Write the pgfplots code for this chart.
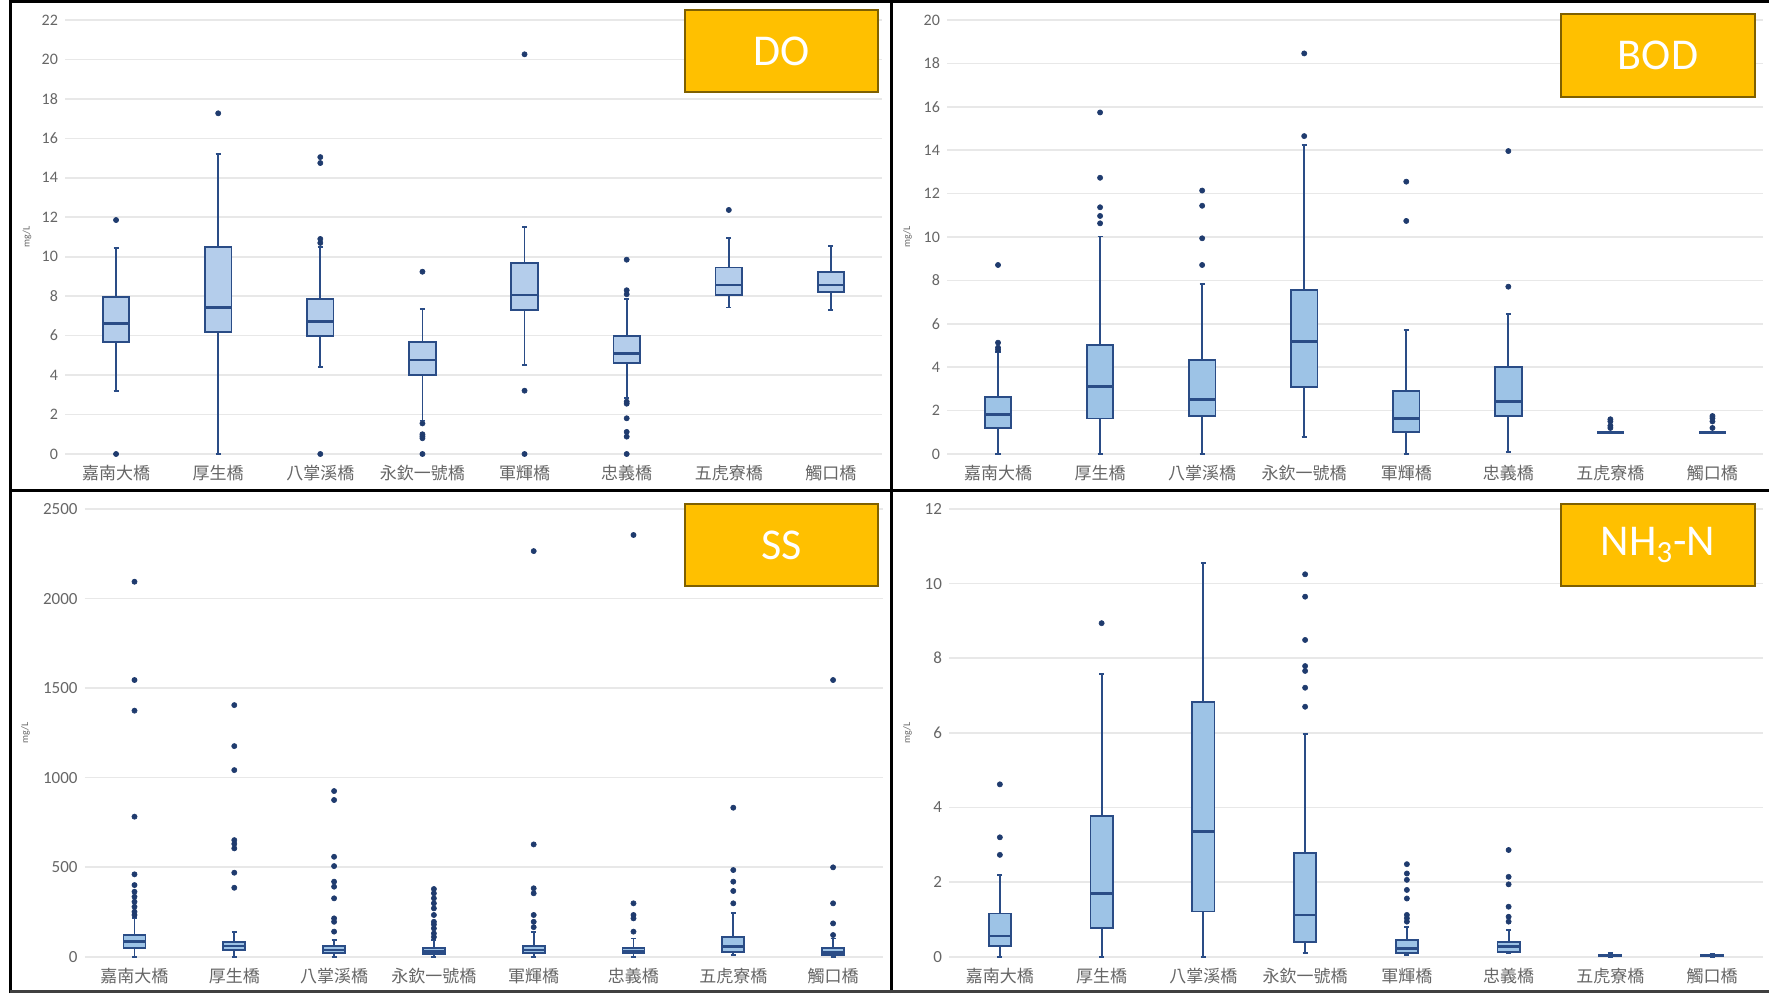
\documentclass[border=0pt]{standalone}
\usepackage{fontspec}
\usepackage{pgfplots}
\pgfplotsset{compat=1.18}
\usepgfplotslibrary{statistics}
\setmainfont{Carlito}
\newfontfamily\cjk{Noto Sans CJK TC}
\definecolor{bxline}{HTML}{2A4C86}
\definecolor{bxfillA}{HTML}{B4CDEB}
\definecolor{bxfillB}{HTML}{9DC3E6}
\definecolor{dotc}{HTML}{1F3B6E}
\definecolor{gridc}{HTML}{E8E8E8}
\definecolor{tickc}{HTML}{666666}
\definecolor{labbg}{HTML}{FFC000}
\definecolor{labbd}{HTML}{7F6000}
\pgfplotsset{
  panel/.style={scale only axis, xmin=0.5, xmax=8.5, xtick={1,...,8},
    xticklabels={嘉南大橋,厚生橋,八掌溪橋,永欽一號橋,軍輝橋,忠義橋,五虎寮橋,觸口橋},
    xticklabel style={font=\cjk\fontsize{8.5}{9}\selectfont, text=tickc, yshift=-2pt},
    yticklabel style={font=\fontsize{8}{9}\selectfont, text=tickc},
    /pgf/number format/assume math mode=true,
    /pgf/number format/1000 sep={},
    ymajorgrids, grid style={gridc, line width=0.8pt},
    axis line style={draw=none}, major tick style={draw=none}, minor tick style={draw=none},
    ylabel={mg/L},
    boxplot/draw direction=y, boxplot/whisker extend=0.05,
    boxplot/every median/.style={line width=1.3pt},
    clip=false},
  ylab/.style={every axis y label/.style={at={(axis description cs:0,0.5)}, xshift=#1, rotate=90, anchor=center, font=\fontsize{5}{5}\selectfont, text=tickc}},
  bxA/.style={draw=bxline, fill=bxfillA, line width=0.9pt, mark=*, mark size=1.3pt, mark options={draw=dotc, fill=dotc, line width=0.3pt}},
  bxB/.style={draw=bxline, fill=bxfillB, line width=0.9pt, mark=*, mark size=1.3pt, mark options={draw=dotc, fill=dotc, line width=0.3pt}},
}
\begin{document}
\begin{tikzpicture}
\useasboundingbox[fill=white] (0,0) rectangle (884.5pt,496.5pt);

% ---------------- DO ----------------
\begin{axis}[panel, at={(32.5pt,269.5pt)}, anchor=south west, width=408.5pt, height=217pt,
  ymin=0, ymax=22, ytick={0,2,...,22}, boxplot/box extend=0.26, ylab=-19pt]
\addplot[bxA, boxplot prepared={draw position=1, lower whisker=3.21, lower quartile=5.69, median=6.62, upper quartile=7.96, upper whisker=10.43}] coordinates {(1,11.86) (1,0)};
\addplot[bxA, boxplot prepared={draw position=2, lower whisker=0, lower quartile=6.20, median=7.43, upper quartile=10.48, upper whisker=15.21}] coordinates {(2,17.27)};
\addplot[bxA, boxplot prepared={draw position=3, lower whisker=4.43, lower quartile=5.98, median=6.71, upper quartile=7.84, upper whisker=10.5}] coordinates {(3,10.7) (3,10.9) (3,14.75) (3,15.05) (3,0)};
\addplot[bxA, boxplot prepared={draw position=4, lower whisker=1.7, lower quartile=4.0, median=4.77, upper quartile=5.66, upper whisker=7.33}] coordinates {(4,9.24) (4,1.55) (4,1.0) (4,0.9) (4,0.8) (4,0)};
\addplot[bxA, boxplot prepared={draw position=5, lower whisker=4.51, lower quartile=7.30, median=8.06, upper quartile=9.67, upper whisker=11.52}] coordinates {(5,20.26) (5,3.21) (5,0)};
\addplot[bxA, boxplot prepared={draw position=6, lower whisker=2.82, lower quartile=4.63, median=5.10, upper quartile=5.98, upper whisker=7.86}] coordinates {(6,8.1) (6,8.3) (6,9.85) (6,2.65) (6,2.55) (6,1.81) (6,1.12) (6,0.88) (6,0)};
\addplot[bxA, boxplot prepared={draw position=7, lower whisker=7.43, lower quartile=8.04, median=8.57, upper quartile=9.45, upper whisker=10.93}] coordinates {(7,12.37)};
\addplot[bxA, boxplot prepared={draw position=8, lower whisker=7.30, lower quartile=8.21, median=8.57, upper quartile=9.24, upper whisker=10.56}] coordinates {};
\end{axis}

% ---------------- BOD ----------------
\begin{axis}[panel, at={(473.5pt,269.5pt)}, anchor=south west, width=408.25pt, height=217pt,
  ymin=0, ymax=20, ytick={0,2,...,20}, boxplot/box extend=0.26, ylab=-19.75pt]
\addplot[bxB, boxplot prepared={draw position=1, lower whisker=0, lower quartile=1.18, median=1.83, upper quartile=2.64, upper whisker=4.7}] coordinates {(1,4.8) (1,4.9) (1,5.13) (1,8.71)};
\addplot[bxB, boxplot prepared={draw position=2, lower whisker=0, lower quartile=1.64, median=3.10, upper quartile=5.02, upper whisker=10.02}] coordinates {(2,10.63) (2,10.97) (2,11.37) (2,12.73) (2,15.74)};
\addplot[bxB, boxplot prepared={draw position=3, lower whisker=0, lower quartile=1.75, median=2.52, upper quartile=4.33, upper whisker=7.82}] coordinates {(3,8.71) (3,9.94) (3,11.44) (3,12.14)};
\addplot[bxB, boxplot prepared={draw position=4, lower whisker=0.80, lower quartile=3.10, median=5.18, upper quartile=7.56, upper whisker=14.24}] coordinates {(4,14.65) (4,18.46)};
\addplot[bxB, boxplot prepared={draw position=5, lower whisker=0, lower quartile=1.0, median=1.64, upper quartile=2.92, upper whisker=5.71}] coordinates {(5,10.74) (5,12.55)};
\addplot[bxB, boxplot prepared={draw position=6, lower whisker=0.1, lower quartile=1.75, median=2.41, upper quartile=4.02, upper whisker=6.44}] coordinates {(6,7.71) (6,13.96)};
\addplot[bxB, boxplot prepared={draw position=7, lower whisker=1.0, lower quartile=1.0, median=1.0, upper quartile=1.0, upper whisker=1.0}] coordinates {(7,1.2) (7,1.3) (7,1.5) (7,1.6)};
\addplot[bxB, boxplot prepared={draw position=8, lower whisker=1.0, lower quartile=1.0, median=1.0, upper quartile=1.0, upper whisker=1.0}] coordinates {(8,1.2) (8,1.5) (8,1.65) (8,1.75)};
\end{axis}

% ---------------- SS ----------------
\begin{axis}[panel, at={(42.3pt,18.15pt)}, anchor=south west, width=399.2pt, height=223.85pt,
  ymin=0, ymax=2500, ytick={0,500,...,2500}, boxplot/box extend=0.22,
  yticklabel style={font=\fontsize{8.5}{9}\selectfont}, ylab=-29.5pt]
\addplot[bxB, boxplot prepared={draw position=1, lower whisker=0, lower quartile=47, median=84, upper quartile=121, upper whisker=214}] coordinates {(1,233) (1,251) (1,279) (1,307) (1,335) (1,363) (1,400) (1,460) (1,782) (1,1374) (1,1545) (1,2094)};
\addplot[bxB, boxplot prepared={draw position=2, lower whisker=0, lower quartile=37, median=60, upper quartile=84, upper whisker=140}] coordinates {(2,385) (2,469) (2,605) (2,630) (2,651) (2,1042) (2,1176) (2,1405)};
\addplot[bxB, boxplot prepared={draw position=3, lower whisker=0, lower quartile=19, median=37, upper quartile=60, upper whisker=93}] coordinates {(3,140) (3,195) (3,214) (3,326) (3,391) (3,419) (3,506) (3,558) (3,875) (3,925)};
\addplot[bxB, boxplot prepared={draw position=4, lower whisker=0, lower quartile=13, median=28, upper quartile=47, upper whisker=93}] coordinates {(4,110) (4,130) (4,158) (4,180) (4,195) (4,233) (4,270) (4,298) (4,326) (4,354) (4,378)};
\addplot[bxB, boxplot prepared={draw position=5, lower whisker=0, lower quartile=19, median=37, upper quartile=61, upper whisker=140}] coordinates {(5,165) (5,195) (5,233) (5,354) (5,382) (5,627) (5,2265)};
\addplot[bxB, boxplot prepared={draw position=6, lower whisker=0, lower quartile=19, median=32, upper quartile=47, upper whisker=102}] coordinates {(6,140) (6,214) (6,233) (6,298) (6,2355)};
\addplot[bxB, boxplot prepared={draw position=7, lower whisker=9, lower quartile=28, median=56, upper quartile=108, upper whisker=242}] coordinates {(7,298) (7,367) (7,419) (7,484) (7,832)};
\addplot[bxB, boxplot prepared={draw position=8, lower whisker=0, lower quartile=9, median=24, upper quartile=47, upper whisker=102}] coordinates {(8,121) (8,186) (8,298) (8,499) (8,1545)};
\end{axis}

% ---------------- NH3-N ----------------
\begin{axis}[panel, at={(474.5pt,18.15pt)}, anchor=south west, width=407pt, height=223.85pt,
  ymin=0, ymax=12, ytick={0,2,...,12}, boxplot/box extend=0.22,
  yticklabel style={font=\fontsize{8.5}{9}\selectfont}, ylab=-20.75pt]
\addplot[bxB, boxplot prepared={draw position=1, lower whisker=0, lower quartile=0.29, median=0.56, upper quartile=1.16, upper whisker=2.19}] coordinates {(1,2.73) (1,3.2) (1,4.62)};
\addplot[bxB, boxplot prepared={draw position=2, lower whisker=0, lower quartile=0.78, median=1.70, upper quartile=3.77, upper whisker=7.58}] coordinates {(2,8.94)};
\addplot[bxB, boxplot prepared={draw position=3, lower whisker=0, lower quartile=1.21, median=3.35, upper quartile=6.82, upper whisker=10.55}] coordinates {};
\addplot[bxB, boxplot prepared={draw position=4, lower whisker=0.09, lower quartile=0.40, median=1.12, upper quartile=2.77, upper whisker=5.96}] coordinates {(4,6.70) (4,7.21) (4,7.66) (4,7.79) (4,8.49) (4,9.65) (4,10.25)};
\addplot[bxB, boxplot prepared={draw position=5, lower whisker=0.04, lower quartile=0.09, median=0.22, upper quartile=0.45, upper whisker=0.80}] coordinates {(5,0.94) (5,1.03) (5,1.12) (5,1.56) (5,1.79) (5,2.06) (5,2.23) (5,2.48)};
\addplot[bxB, boxplot prepared={draw position=6, lower whisker=0.09, lower quartile=0.13, median=0.27, upper quartile=0.40, upper whisker=0.71}] coordinates {(6,0.94) (6,1.07) (6,1.34) (6,1.94) (6,2.14) (6,2.86)};
\addplot[bxB, boxplot prepared={draw position=7, lower whisker=0, lower quartile=0.02, median=0.04, upper quartile=0.06, upper whisker=0.1}] coordinates {};
\addplot[bxB, boxplot prepared={draw position=8, lower whisker=0, lower quartile=0.02, median=0.03, upper quartile=0.05, upper whisker=0.08}] coordinates {};
\end{axis}

% ---------------- frame ----------------
\draw[line width=1.5pt] (5pt,495.5pt) -- (884.5pt,495.5pt);
\draw[line width=1.5pt] (5pt,0pt) -- (5pt,496.5pt);
\draw[line width=1.5pt] (445.5pt,0pt) -- (445.5pt,496.5pt);
\draw[line width=1.5pt] (5pt,251.25pt) -- (884.5pt,251.25pt);
\draw[line width=1.5pt, black!75] (5pt,0.75pt) -- (884.5pt,0.75pt);

% ---------------- labels ----------------
\tikzset{lab/.style={draw=labbd, line width=1.3pt, fill=labbg, inner sep=0pt, text=white, font=\fontsize{22}{22}\selectfont}}
\node[lab, minimum width=96.5pt, minimum height=41pt] at (390.75pt,471pt) {DO};
\node[lab, minimum width=97pt, minimum height=41.5pt] at (829pt,468.75pt) {BOD};
\node[lab, minimum width=96.5pt, minimum height=41pt] at (390.75pt,224pt) {SS};
\node[lab, minimum width=97pt, minimum height=41pt] at (829pt,224pt) {NH\textsubscript{3}-N};
\end{tikzpicture}
\end{document}
